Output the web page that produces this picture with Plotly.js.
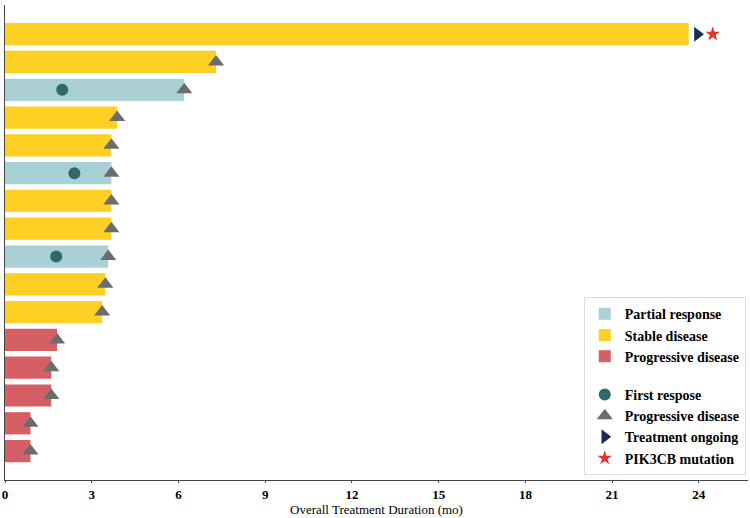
<!DOCTYPE html>
<html>
<head>
<meta charset="utf-8">
<script src="https://cdn.plot.ly/plotly-3.0.1.min.js"></script>
<style>html,body{margin:0;padding:0;background:#fff;}#chart{width:750px;height:518px;}</style>
</head>
<body>
<div id="chart"></div>
<script>
// Row index (1 = top) and treatment duration (months)
const rows      = [1, 2, 3, 4, 5, 6, 7, 8, 9, 10, 11, 12, 13, 14, 15, 16];
const durations = [23.65, 7.3, 6.2, 3.88, 3.68, 3.68, 3.68, 3.68, 3.57, 3.47, 3.36, 1.8, 1.6, 1.6, 0.88, 0.88];
const responses = ['SD','SD','PR','SD','SD','PR','SD','SD','PR','SD','SD','PD','PD','PD','PD','PD'];

// First response markers
const firstRespRows   = [3, 6, 9];
const firstRespTimes  = [1.98, 2.4, 1.77];

// Progressive disease markers
const pdRows  = [2, 3, 4, 5, 6, 7, 8, 9, 10, 11, 12, 13, 14, 15, 16];
const pdTimes = [7.3, 6.2, 3.88, 3.68, 3.68, 3.68, 3.68, 3.57, 3.47, 3.36, 1.8, 1.6, 1.6, 0.88, 0.88];

// Treatment ongoing & mutation
const ongoingRows  = [1];
const ongoingTimes = [23.95];
const mutRows  = [1];
const mutTimes = [24.48];

const xTitle = 'Overall Treatment Duration (mo)';

const groups = [
  {code:'PR', name:'Partial response',    color:'#a9d1d5'},
  {code:'SD', name:'Stable disease',      color:'#fdd023'},
  {code:'PD', name:'Progressive disease', color:'#d65e65'}
];

const traces = groups.map(g => {
  const y = [], x = [];
  rows.forEach((r, i) => { if (responses[i] === g.code) { y.push(r); x.push(durations[i]); } });
  return {type:'bar', orientation:'h', x:x, y:y, name:g.name, width:0.8,
          marker:{color:g.color, line:{width:0}}, legendgroup:'bars', hoverinfo:'x'};
});

traces.push({type:'scatter', mode:'markers', x:firstRespTimes, y:firstRespRows, name:'First respose',
  marker:{symbol:'circle', size:12, color:'#2e6a6b'}, legendgroup:'marks'});
traces.push({type:'scatter', mode:'markers', x:pdTimes, y:pdRows, name:'Progressive disease',
  marker:{symbol:'triangle-up', size:14, color:'#6c6c6c'}, legendgroup:'marks'});
traces.push({type:'scatter', mode:'markers', x:ongoingTimes, y:ongoingRows, name:'Treatment ongoing',
  marker:{symbol:'triangle-right', size:13, color:'#1c2a5a'}, legendgroup:'marks'});
traces.push({type:'scatter', mode:'markers', x:mutTimes, y:mutRows, name:'PIK3CB mutation',
  marker:{symbol:'star', size:11, color:'#e3342a'}, legendgroup:'marks'});

const layout = {
  width:750, height:518,
  margin:{l:5, r:2, t:5, b:38},
  paper_bgcolor:'#fff', plot_bgcolor:'#fff',
  barmode:'overlay',
  showlegend:true,
  font:{family:'Liberation Serif, Times New Roman, serif', color:'#000'},
  xaxis:{range:[0, 25.7], tickvals:[0,3,6,9,12,15,18,21,24], showgrid:false, zeroline:false,
         showline:true, linecolor:'#444', linewidth:1, ticks:'outside', ticklen:2, tickcolor:'#444',
         tickfont:{family:'Liberation Serif', size:13, weight:'bold', color:'#000'}},
  yaxis:{range:[17.04, -0.05], autorange:false, showticklabels:false, showgrid:false, zeroline:false,
         showline:true, linecolor:'#444', linewidth:1, ticks:''},
  annotations:[{text:xTitle, xref:'paper', yref:'paper', x:0.5, y:0, xanchor:'center', yanchor:'top',
                yshift:-21, borderpad:0, showarrow:false, font:{family:'Liberation Serif', size:13, color:'#000'}}],
  legend:{x:0.997, y:0.01, xanchor:'right', yanchor:'bottom', bgcolor:'#fff',
          bordercolor:'#ddd', borderwidth:1, traceorder:'grouped', tracegroupgap:17,
          font:{family:'Liberation Serif', size:14, weight:'bold', color:'#000'}, itemwidth:30}
};

Plotly.newPlot('chart', traces, layout, {displayModeBar:false, staticPlot:true});
</script>
</body>
</html>
